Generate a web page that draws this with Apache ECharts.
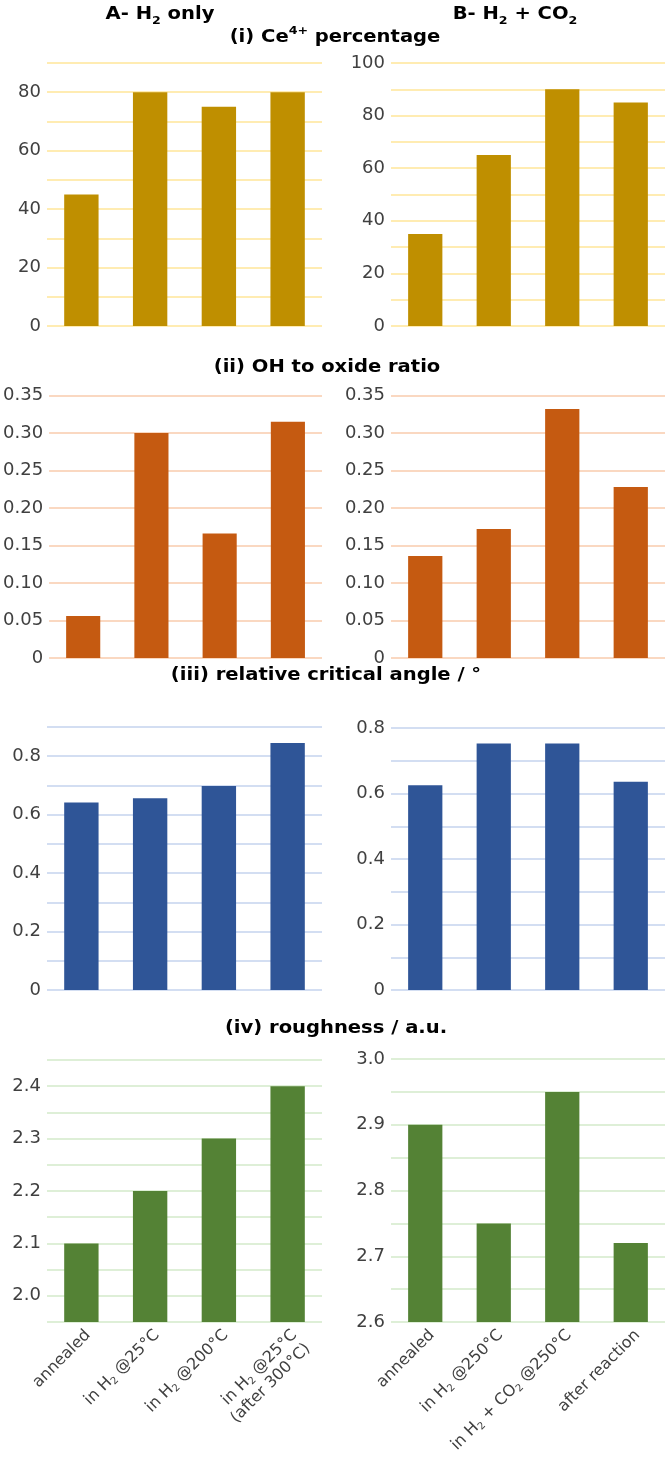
<!DOCTYPE html>
<html>
<head>
<meta charset="utf-8">
<script src="https://cdn.jsdelivr.net/npm/echarts@6/dist/echarts.min.js"></script>
<style>
  html, body { margin: 0; padding: 0; background: #fff; }
  #chart { width: 666px; height: 1463px; }
</style>
</head>
<body>
<div id="chart"></div>
<script>
// categories (H2 / CO2 get a subscript 2 in the label formatter)
var catsA = ['annealed', 'in H2 @25°C', 'in H2 @200°C', 'in H2 @25°C\n(after 300°C)']
var catsB = ['annealed', 'in H2 @250°C', 'in H2 + CO2 @250°C', 'after reaction']

// (i) Ce4+ percentage
var ceA = [45, 80, 75, 80]
var ceB = [35, 65, 90, 85]
// (ii) OH to oxide ratio
var ohA = [0.056, 0.300, 0.166, 0.315]
var ohB = [0.136, 0.172, 0.332, 0.228]
// (iii) relative critical angle
var angA = [0.642, 0.656, 0.698, 0.845]
var angB = [0.625, 0.753, 0.753, 0.636]
// (iv) roughness
var roughA = [2.10, 2.20, 2.30, 2.40]
var roughB = [2.90, 2.75, 2.95, 2.72]

var FONT = '"DejaVu Sans", sans-serif'
var chart = echarts.init(document.getElementById('chart'))

var grids = [], xAxes = [], yAxes = [], series = []

function addPanel(box, axis, cats, data, color, lineColor, showX) {
    var i = grids.length
    grids.push({ left: box[0], width: box[1], top: box[2], height: box[3] })
    xAxes.push({
        type: 'category',
        gridIndex: i,
        data: cats,
        axisLine: { show: false },
        axisTick: { show: false },
        axisLabel: {
            show: showX,
            rotate: 45,
            interval: 0,
            margin: 4,
            verticalAlign: 'top',
            fontFamily: FONT,
            fontSize: 16,
            lineHeight: 19,
            color: '#404040',
            formatter: function (v) {
                return v.replace(/(H|CO)2/g, '$1{s|2}')
            },
            rich: {
                s: { fontSize: 10, fontFamily: FONT, color: '#404040', verticalAlign: 'bottom', lineHeight: 14 }
            }
        }
    })
    yAxes.push({
        type: 'value',
        gridIndex: i,
        min: axis.min,
        max: axis.max,
        interval: axis.step,
        axisLine: { show: false },
        axisTick: { show: false },
        splitLine: { show: true, lineStyle: { color: lineColor, width: 1.5 } },
        axisLabel: {
            margin: 6,
            fontFamily: FONT,
            fontSize: 18,
            color: '#404040',
            showMinLabel: true,
            showMaxLabel: true,
            formatter: function (v) {
                var k = v / axis.label
                if (Math.abs(k - Math.round(k)) > 1e-6) return ''
                if (Math.abs(v) < 1e-9) return '0'
                return v.toFixed(axis.digits)
            }
        }
    })
    series.push({
        type: 'bar',
        xAxisIndex: i,
        yAxisIndex: i,
        data: data,
        barWidth: '50%',
        itemStyle: { color: color },
        silent: true
    })
}

//            left  width top  height
addPanel([47, 275, 63, 263], { min: 0, max: 90, step: 10, label: 20, digits: 0 }, catsA, ceA, '#BF8F00', '#FFE699', false)
addPanel([391, 274, 63, 263], { min: 0, max: 100, step: 10, label: 20, digits: 0 }, catsB, ceB, '#BF8F00', '#FFE699', false)
addPanel([47, 275, 395.5, 262.5], { min: 0, max: 0.35, step: 0.05, label: 0.05, digits: 2 }, catsA, ohA, '#C55A11', '#F8CBAD', false)
addPanel([391, 274, 395.5, 262.5], { min: 0, max: 0.35, step: 0.05, label: 0.05, digits: 2 }, catsB, ohB, '#C55A11', '#F8CBAD', false)
addPanel([47, 275, 727, 263], { min: 0, max: 0.9, step: 0.1, label: 0.2, digits: 1 }, catsA, angA, '#2F5597', '#C5D3EE', false)
addPanel([391, 274, 728, 262], { min: 0, max: 0.8, step: 0.1, label: 0.2, digits: 1 }, catsB, angB, '#2F5597', '#C5D3EE', false)
addPanel([47, 275, 1060, 262], { min: 1.95, max: 2.45, step: 0.05, label: 0.1, digits: 1 }, catsA, roughA, '#548235', '#D3EACA', true)
addPanel([391, 274, 1059, 263], { min: 2.6, max: 3.0, step: 0.05, label: 0.1, digits: 1 }, catsB, roughB, '#548235', '#D3EACA', true)

// headings with sub/superscripts (the source figure is a little wide, so stretch them)
var headRich = {
    m: { fontSize: 17, fontWeight: 'bold', fontFamily: FONT, color: '#1a1a1a', lineHeight: 24 },
    sub: { fontSize: 11, fontWeight: 'bold', fontFamily: FONT, color: '#1a1a1a', lineHeight: 11, verticalAlign: 'bottom' },
    sup: { fontSize: 11, fontWeight: 'bold', fontFamily: FONT, color: '#1a1a1a', lineHeight: 11, verticalAlign: 'top' }
}
function heading(text, x, y) {
    return {
        type: 'text',
        x: x,
        y: y,
        scaleX: 1.15,
        silent: true,
        style: { text: text, align: 'center', verticalAlign: 'middle', rich: headRich }
    }
}

chart.setOption({
    backgroundColor: '#fff',
    animation: false,
    grid: grids,
    xAxis: xAxes,
    yAxis: yAxes,
    series: series,
    graphic: [
        heading('{m|A- H}{sub|2}{m| only}', 160, 15),
        heading('{m|B- H}{sub|2}{m| + CO}{sub|2}', 515, 15),
        heading('{m|(i) Ce}{sup|4+}{m| percentage}', 335, 38),
        heading('{m|(ii) OH to oxide ratio}', 327, 368),
        heading('{m|(iii) relative critical angle / °}', 326, 676),
        heading('{m|(iv) roughness / a.u.}', 336, 1029)
    ]
})
</script>
</body>
</html>
